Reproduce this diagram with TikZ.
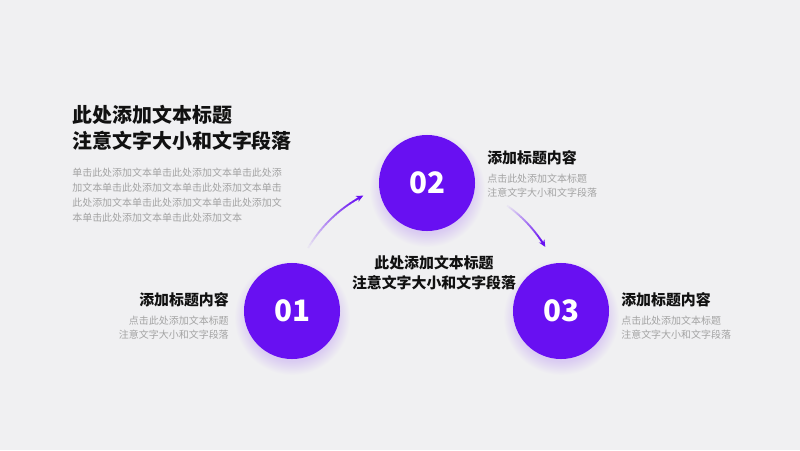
\documentclass[tikz,border=0pt]{standalone}
\usepackage{fontspec}
\newfontfamily\cjk{Noto Sans CJK SC}
\usetikzlibrary{arrows.meta}
\definecolor{pagegray}{RGB}{240,240,242}
\definecolor{stepviolet}{RGB}{104,16,242}
\definecolor{inkblack}{RGB}{17,17,17}
\definecolor{notegray}{RGB}{163,163,163}
\colorlet{glowviolet}{stepviolet!16!pagegray}
\pgfdeclareradialshading{violetglow}{\pgfpoint{0bp}{0bp}}{color(0bp)=(glowviolet); color(19bp)=(glowviolet); color(25bp)=(pagegray); color(50bp)=(pagegray)}

\begin{document}
\begin{tikzpicture}[x=0.025cm, y=0.025cm, every node/.style={font=\cjk, inner sep=0pt},
  stepdisc/.style={circle, fill=stepviolet, minimum size=2.4cm, text=white,
    font=\cjk\bfseries\fontsize{21}{21}\selectfont},
  headline/.style={font=\cjk\bfseries\fontsize{14.2}{18.4}\selectfont, text=inkblack, align=left},
  itemhead/.style={font=\cjk\bfseries\fontsize{10.6}{14.2}\selectfont, text=inkblack},
  blurb/.style={font=\cjk\fontsize{7.1}{10}\selectfont, text=notegray}]
  % Page
  \fill[pagegray] (0,0) rectangle (800,-450);
  \useasboundingbox (0,0) rectangle (800,-450);
  % Intro text
  \node[headline, anchor=west] (intro) at (72,-128) {此处添加文本标题\\注意文字大小和文字段落};
  \node[blurb, anchor=west, align=left, font=\cjk\fontsize{7.1}{10.6}\selectfont] (introtext) at (72,-195.5)
    {单击此处添加文本单击此处添加文本单击此处添\\加文本单击此处添加文本单击此处添加文本单击\\此处添加文本单击此处添加文本单击此处添加文\\本单击此处添加文本单击此处添加文本};
  % Soft glow under the discs
  \shade[shading=violetglow] (292,-317) circle[radius=58];
  \shade[shading=violetglow] (427,-189) circle[radius=58];
  \shade[shading=violetglow] (561,-317) circle[radius=58];
  % Discs
  \node[stepdisc] (one) at (292,-311) {01};
  \node[stepdisc] (two) at (427,-183) {02};
  \node[stepdisc] (three) at (561,-311) {03};
  % Centre text
  \node[itemhead, align=center] (core) at (434,-273) {此处添加文本标题\\注意文字大小和文字段落};
  % Item labels
  \node[itemhead, anchor=east] (onehead) at (229,-300) {添加标题内容};
  \node[blurb, anchor=east, align=right] (onetext) at (229,-328) {点击此处添加文本标题\\注意文字大小和文字段落};
  \node[itemhead, anchor=west] (twohead) at (487,-158) {添加标题内容};
  \node[blurb, anchor=west, align=left] (twotext) at (487,-186) {点击此处添加文本标题\\注意文字大小和文字段落};
  \node[itemhead, anchor=west] (threehead) at (621,-300) {添加标题内容};
  \node[blurb, anchor=west, align=left] (threetext) at (621,-328) {点击此处添加文本标题\\注意文字大小和文字段落};
  % Fading arcs on the ring through the discs
  \coordinate (ring) at (427,-318);
  \foreach \k in {0,...,19} {
    \pgfmathsetmacro\a{149.5-\k*1.5}
    \pgfmathtruncatemacro\p{5+\k*5}
    \draw[stepviolet!\p!pagegray, line width=1.3pt] (ring) ++(\a:138) arc[start angle=\a, delta angle=-1.6, radius=138];
    \pgfmathsetmacro\b{54.5-\k*1.05}
    \draw[stepviolet!\p!pagegray, line width=1.3pt] (ring) ++(\b:138) arc[start angle=\b, delta angle=-1.15, radius=138];
  }
  \draw[stepviolet, line width=1.3pt, -{Stealth[length=5pt, width=4.5pt]}] (ring) ++(120.2:138) arc[start angle=120.2, end angle=117.5, radius=138];
  \draw[stepviolet, line width=1.3pt, -{Stealth[length=5pt, width=4.5pt]}] (ring) ++(33.8:138) arc[start angle=33.8, end angle=31, radius=138];
\end{tikzpicture}
\end{document}
